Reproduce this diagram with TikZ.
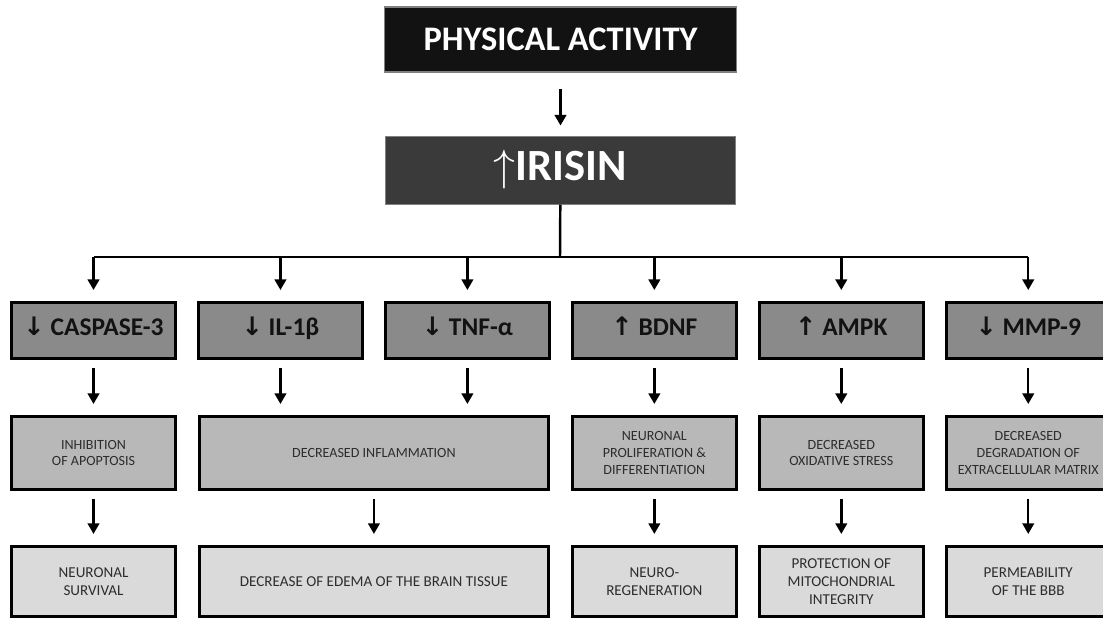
\documentclass[tikz,border=0pt]{standalone}
\usepackage{fontspec}
\setmainfont{Carlito}
\newfontfamily\arrfont{DejaVu Sans}
\usepackage{tikz}
\usetikzlibrary{arrows.meta, positioning, calc}
\definecolor{myblack}{RGB}{18,18,18}
\definecolor{mydark}{RGB}{58,58,58}
\definecolor{mymid}{RGB}{138,138,138}
\definecolor{mylight}{RGB}{184,184,184}
\definecolor{mypale}{RGB}{218,218,218}
\definecolor{mytext}{RGB}{45,45,45}
\newcommand{\dnarr}{{\arrfont ↓}}
\newcommand{\uparr}{{\arrfont ↑}}
\tikzset{
  topblock/.style={rectangle, draw=gray, fill=myblack, text=white,
    minimum width=7.06cm, minimum height=1.3cm,
    font=\bfseries\fontsize{19.6}{22}\selectfont, line width=0.6pt},
  irisblock/.style={rectangle, draw=gray, fill=mydark, text=white,
    minimum width=7.02cm, minimum height=1.36cm,
    font=\bfseries\fontsize{25.4}{28}\selectfont, line width=0.6pt},
  effblock/.style={rectangle, draw=black, fill=mymid, text=myblack,
    minimum width=3.28cm, minimum height=1.12cm,
    text height=0.72em, text depth=0.2em,
    font=\bfseries\fontsize{14.5}{16}\selectfont, line width=1.7pt},
  midblock/.style={rectangle, draw=black, fill=mylight, text=mytext,
    minimum width=3.28cm, minimum height=1.46cm, align=center,
    font=\fontsize{8}{9.5}\selectfont, line width=1.7pt},
  endblock/.style={rectangle, draw=black, fill=mypale, text=mytext,
    minimum width=3.28cm, minimum height=1.4cm, align=center,
    font=\fontsize{8.6}{10.2}\selectfont, line width=1.7pt},
  arrow/.style={-{Triangle[width=6.5pt,length=6pt]}, line width=1.4pt,
    shorten <=0.16cm, shorten >=0.22cm},
  line/.style={line width=1.4pt}
}
\begin{document}
\begin{tikzpicture}[x=0.02cm, y=0.02cm, node distance=1.1cm and 0.4cm]
  \useasboundingbox (0,0) rectangle (1103,-620);

  \node[topblock] (pa) at (560.5,-39.5) {PHYSICAL ACTIVITY};
  \node[irisblock, below=1.26cm of pa] (irisin) {$\uparrow$IRISIN};
  \coordinate (hub) at (560,-257);

  % Effectors
  \node[effblock] (casp) at (93.5,-330.5) {\dnarr\ CASPASE-3};
  \node[effblock, right=of casp] (il) {\dnarr\ IL-1β};
  \node[effblock, right=of il] (tnf) {\dnarr\ TNF-α};
  \node[effblock, right=of tnf] (bdnf) {\uparr\ BDNF};
  \node[effblock, right=of bdnf] (ampk) {\uparr\ AMPK};
  \node[effblock, right=of ampk] (mmp) {\dnarr\ MMP-9};
  \coordinate (iltnf) at ($(il)!0.5!(tnf)$);

  % Mechanisms
  \node[midblock, below=of casp] (apop) {INHIBITION\\OF APOPTOSIS};
  \node[midblock, minimum width=6.99cm] (inflam) at (iltnf |- apop) {DECREASED INFLAMMATION};
  \node[midblock, below=of bdnf] (prolif) {NEURONAL\\PROLIFERATION \&\\DIFFERENTIATION};
  \node[midblock, below=of ampk] (oxid) {DECREASED\\OXIDATIVE STRESS};
  \node[midblock, below=of mmp] (ecm) {DECREASED\\DEGRADATION OF\\EXTRACELLULAR MATRIX};

  % Outcomes
  \node[endblock, below=1.08cm of apop] (surv) {NEURONAL\\SURVIVAL};
  \node[endblock, minimum width=6.99cm, below=1.08cm of inflam] (edema) {DECREASE OF EDEMA OF THE BRAIN TISSUE};
  \node[endblock, below=1.08cm of prolif] (regen) {NEURO-\\REGENERATION};
  \node[endblock, below=1.08cm of oxid] (mito) {PROTECTION OF\\MITOCHONDRIAL\\INTEGRITY};
  \node[endblock, below=1.08cm of ecm] (bbb) {PERMEABILITY\\OF THE BBB};

  % Paths
  \draw[arrow, shorten <=0.32cm, shorten >=0.2cm] (pa) -- (irisin);
  \draw[line] (irisin) -- (hub);
  \draw[line] (hub -| casp) -- (hub -| mmp);
  \foreach \n in {casp, il, tnf, bdnf, ampk, mmp}
    \draw[arrow, shorten <=0pt] (hub -| \n) -- (\n);
  \draw[arrow] (casp) -- (apop);
  \draw[arrow] (il) -- (il |- inflam.north);
  \draw[arrow] (tnf) -- (tnf |- inflam.north);
  \draw[arrow] (bdnf) -- (prolif);
  \draw[arrow] (ampk) -- (oxid);
  \draw[arrow] (mmp) -- (ecm);
  \draw[arrow] (apop) -- (surv);
  \draw[arrow] (inflam) -- (edema);
  \draw[arrow] (prolif) -- (regen);
  \draw[arrow] (oxid) -- (mito);
  \draw[arrow] (ecm) -- (bbb);
\end{tikzpicture}
\end{document}
